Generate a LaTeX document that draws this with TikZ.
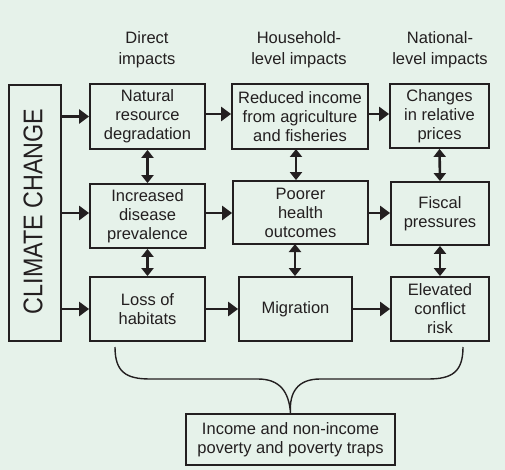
\documentclass[tikz,border=0pt]{standalone}
\usepackage{fontspec}
\setmainfont{Liberation Sans}
\usetikzlibrary{arrows.meta,calc}
\definecolor{bg}{RGB}{230,242,234}
\definecolor{ink}{RGB}{35,31,32}
\begin{document}
\begin{tikzpicture}[x=1pt,y=-1pt,
  box/.style={draw=ink,line width=1.8pt,text=ink,align=center,inner sep=0pt,
    font=\fontsize{16.5}{19}\selectfont},
  hdr/.style={text=ink,align=center,inner sep=0pt,font=\fontsize{16.5}{21}\selectfont},
  arr/.style={draw=ink,line width=2.6pt,-{Triangle[length=10pt,width=14pt]}},
  darr/.style={draw=ink,line width=2.6pt,{Triangle[length=8pt,width=12pt]}-{Triangle[length=8pt,width=12pt]}},
  brace/.style={draw=ink,line width=1.4pt}]
\fill[bg] (0,0) rectangle (505,470);
\useasboundingbox (0,0) rectangle (505,470);
% headers
\node[hdr] (h1) at (147,50) {Direct\\impacts};
\node[hdr] (h2) at (299,50) {Household-\\level impacts};
\node[hdr] (h3) at (440,50) {National-\\level impacts};
% climate change
\node[box,minimum width=52pt,minimum height=256pt] (cc) at (35,213) {};
\node[text=ink,rotate=90,inner sep=0pt] (cct) at (33,211.5)
  {\scalebox{1}[1.16]{\fontsize{23.3}{28}\selectfont CLIMATE CHANGE}};
% column 1
\node[box,minimum width=115pt,minimum height=65pt] (nr) at (147.5,116.5) {Natural\\resource\\degradation};
\node[box,minimum width=115pt,minimum height=64pt] (id) at (147.5,216) {Increased\\disease\\prevalence};
\node[box,minimum width=115pt,minimum height=64pt] (lh) at (147.5,309) {Loss of\\habitats};
% column 2
\node[box,minimum width=136pt,minimum height=65pt] (ri) at (300,116.5) {Reduced income\\from agriculture\\and fisheries};
\node[box,minimum width=135pt,minimum height=63pt] (ph) at (300.5,212.5) {Poorer\\health\\outcomes};
\node[box,minimum width=113pt,minimum height=64pt] (mg) at (295.5,309) {Migration};
% column 3
\node[box,minimum width=99pt,minimum height=64pt] (cp) at (439.5,116) {Changes\\in relative\\prices};
\node[box,minimum width=98pt,minimum height=63pt] (fp) at (440,213.5) {Fiscal\\pressures};
\node[box,minimum width=98pt,minimum height=64pt] (ec) at (440,309) {Elevated\\conflict\\risk};
% bottom
\node[box,minimum width=209pt,minimum height=51pt] (ip) at (290.5,439.5) {Income and non-income\\poverty and poverty traps};
% horizontal arrows
\draw[arr] (cc.east |- nr.west) -- (nr.west);
\draw[arr] (cc.east |- 0,213) -- (id.west |- 0,213);
\draw[arr] (cc.east |- lh.west) -- (lh.west);
\draw[arr] (nr.east |- 0,114) -- (ri.west |- 0,114);
\draw[arr] (id.east |- 0,213) -- (ph.west |- 0,213);
\draw[arr] (lh.east) -- (mg.west);
\draw[arr] (ri.east |- 0,114) -- (cp.west |- 0,114);
\draw[arr] (ph.east |- 0,213) -- (fp.west |- 0,213);
\draw[arr] (mg.east) -- (ec.west);
% vertical double arrows
\draw[darr] (nr.south) -- (id.north);
\draw[darr] (id.south) -- (lh.north);
\draw[darr] (296,149) coordinate (a1) -- (a1 |- ph.north);
\draw[darr] (295,244) coordinate (a2) -- (a2 |- mg.north);
\draw[darr] (cp.south) -- (fp.north);
\draw[darr] (fp.south) -- (ec.north);
% brace
\coordinate (bl) at (115,347);
\coordinate (br) at (463,347);
\draw[brace] (bl) .. controls (115,372) and (126,379) .. (150,379)
  -- (258,379) .. controls (280,379) and (289,392) .. (ip.north)
  .. controls (289,392) and (298,379) .. (320,379)
  -- (428,379) .. controls (452,379) and (463,372) .. (br);
\end{tikzpicture}
\end{document}
